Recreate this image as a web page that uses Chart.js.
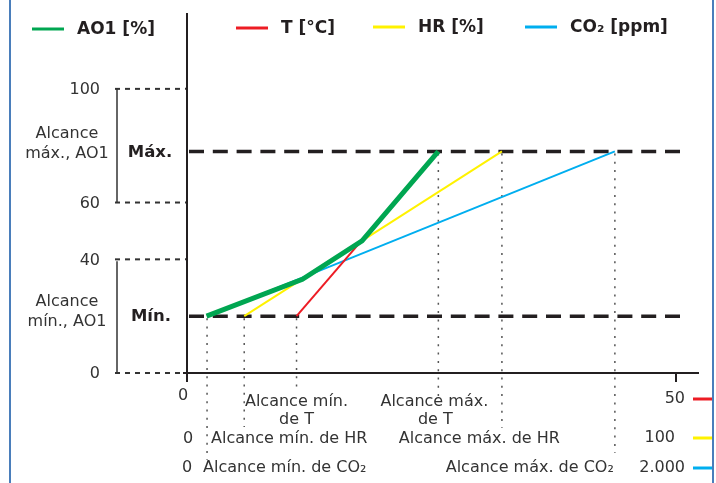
<!DOCTYPE html>
<html>
<head>
<meta charset="utf-8">
<script src="https://cdn.jsdelivr.net/npm/chart.js@4.4.0/dist/chart.umd.min.js"></script>
<style>
  body { margin: 0; background: #fff; }
  #grafico { display: block; }
</style>
</head>
<body>
<canvas id="grafico" width="716" height="483"></canvas>
<script>
const ticksAO1 = [0, 40, 60, 100];
const nomes = ['AO1 [%]', 'T [°C]', 'HR [%]', 'CO₂ [ppm]'];
const cores = ['#00a651', '#ed1c24', '#fff200', '#00aeef'];
const ao1Min = 20;
const ao1Max = 78;
const tAlcance = [11.2, 25.7];
const hrAlcance = [11.7, 64.4];
const co2Alcance = [82, 1750];
const escalaMax = [50, 100, 2000]; // T, HR, CO2
const escalaTexto = ['50', '100', '2.000'];
// AO1 resultante (eixo de T)
const ao1X = [2.0, 11.8, 17.9, 25.7];
const ao1Y = [20, 33, 46.5, 78];

const FONTE = '"DejaVu Sans", Verdana, sans-serif';
const TXT = '#333333';
const PRETO = '#231f20';

function pontos(xs, ys) {
    let lista = [];
    for (let i = 0; i < xs.length; i++) {
        lista.push({ x: xs[i], y: ys[i] });
    }
    return lista;
}

function linha(ctx, x1, y1, x2, y2, cor, largura, tracejado) {
    ctx.save();
    ctx.beginPath();
    ctx.strokeStyle = cor;
    ctx.lineWidth = largura;
    ctx.setLineDash(tracejado || []);
    ctx.moveTo(x1, y1);
    ctx.lineTo(x2, y2);
    ctx.stroke();
    ctx.restore();
}

function texto(ctx, s, x, y, alinhar, negrito, tam) {
    ctx.save();
    ctx.font = (negrito ? 'bold ' : '') + (tam || 16) + 'px ' + FONTE;
    ctx.fillStyle = negrito ? PRETO : TXT;
    ctx.textAlign = alinhar;
    ctx.textBaseline = 'middle';
    ctx.fillText(s, x, y);
    ctx.restore();
}

const desenhoFundo = {
    id: 'desenhoFundo',
    beforeDatasetsDraw(chart) {
        const ctx = chart.ctx;
        const y = chart.scales.y;
        const xT = chart.scales.xT, xHR = chart.scales.xHR, xCO2 = chart.scales.xCO2;
        const area = chart.chartArea;

        // linhas pontilhadas dos ticks do AO1
        ticksAO1.forEach(function (v) {
            const py = y.getPixelForValue(v);
            linha(ctx, 115, py, area.left, py, TXT, 2, [5, 5]);
        });
        // colchetes
        linha(ctx, 117, y.getPixelForValue(100), 117, y.getPixelForValue(60), TXT, 1.5);
        linha(ctx, 117, y.getPixelForValue(40) + 2, 117, y.getPixelForValue(0), TXT, 1.5);

        // eixos
        linha(ctx, area.left, 13, area.left, area.bottom + 9, PRETO, 2);
        linha(ctx, 183, area.bottom, 699, area.bottom, PRETO, 2);
        const x50 = xT.getPixelForValue(escalaMax[0]);
        linha(ctx, x50, area.bottom, x50, area.bottom + 9, PRETO, 2);

        // Máx. / Mín.
        const yMax = y.getPixelForValue(ao1Max);
        const yMin = y.getPixelForValue(ao1Min);
        linha(ctx, 189, yMax, 680, yMax, PRETO, 3.5, [15, 8.8]);
        linha(ctx, 189, yMin, 680, yMin, PRETO, 3.5, [15, 8.8]);

        // verticais pontilhadas ate os textos
        const verticais = [
            [xCO2.getPixelForValue(co2Alcance[0]), yMin, 460],
            [xHR.getPixelForValue(hrAlcance[0]), yMin, 427],
            [xT.getPixelForValue(tAlcance[0]), yMin, 388],
            [xT.getPixelForValue(tAlcance[1]), yMax, 396],
            [xHR.getPixelForValue(hrAlcance[1]), yMax, 428],
            [xCO2.getPixelForValue(co2Alcance[1]), yMax, 453]
        ];
        verticais.forEach(function (v) {
            linha(ctx, v[0], v[1] + 2, v[0], v[2], '#555555', 1.5, [2, 6.3]);
        });
    },
    afterDraw(chart) {
        const ctx = chart.ctx;
        const y = chart.scales.y;
        const xT = chart.scales.xT, xHR = chart.scales.xHR, xCO2 = chart.scales.xCO2;

        // legenda
        const legX = [32, 236, 373, 525];
        const legY = [29, 28, 27, 27];
        for (let i = 0; i < nomes.length; i++) {
            linha(ctx, legX[i], legY[i], legX[i] + 32, legY[i], cores[i], 3);
            texto(ctx, nomes[i], legX[i] + 45, legY[i] + 1, 'left', true, 17);
        }

        // eixo AO1
        ticksAO1.forEach(function (v) {
            texto(ctx, String(v), 100, y.getPixelForValue(v) + 1, 'right', false);
        });
        texto(ctx, 'Alcance', 67, 134, 'center', false);
        texto(ctx, 'máx., AO1', 67, 154, 'center', false);
        texto(ctx, 'Alcance', 67, 302, 'center', false);
        texto(ctx, 'mín., AO1', 67, 322, 'center', false);
        texto(ctx, 'Máx.', 150, y.getPixelForValue(ao1Max) + 1, 'center', true, 16.5);
        texto(ctx, 'Mín.', 151, y.getPixelForValue(ao1Min) + 1, 'center', true, 16.5);

        // linha T
        texto(ctx, '0', 183, 396, 'center', false);
        texto(ctx, 'Alcance mín.', xT.getPixelForValue(tAlcance[0]), 402, 'center', false);
        texto(ctx, 'de T', xT.getPixelForValue(tAlcance[0]), 420, 'center', false);
        texto(ctx, 'Alcance máx.', xT.getPixelForValue(tAlcance[1]) - 4, 402, 'center', false);
        texto(ctx, 'de T', xT.getPixelForValue(tAlcance[1]) - 3, 420, 'center', false);
        // linha HR
        texto(ctx, '0', 188, 439, 'center', false);
        texto(ctx, 'Alcance mín. de HR', 211, 439, 'left', false);
        texto(ctx, 'Alcance máx. de HR', xHR.getPixelForValue(hrAlcance[1]) + 58, 439, 'right', false);
        // linha CO2
        texto(ctx, '0', 187, 468, 'center', false);
        texto(ctx, 'Alcance mín. de CO₂', 203, 468, 'left', false);
        texto(ctx, 'Alcance máx. de CO₂', xCO2.getPixelForValue(co2Alcance[1]) - 1, 468, 'right', false);

        // fundos de escala
        const linhasY = [399, 438, 468];
        const direita = [685, 675, 685];
        for (let i = 0; i < 3; i++) {
            texto(ctx, escalaTexto[i], direita[i], linhasY[i], 'right', false);
            linha(ctx, 693, linhasY[i], 712, linhasY[i], cores[i + 1], 3);
        }

        // moldura lateral
        linha(ctx, 10, 0, 10, 483, '#4a7ebb', 2);
        linha(ctx, 713, 0, 713, 483, '#4a7ebb', 2);
    }
};

const dados = {
    datasets: [
        {
            label: nomes[0],
            data: pontos(ao1X, ao1Y),
            xAxisID: 'xT',
            borderColor: cores[0],
            borderWidth: 5,
            borderCapStyle: 'butt',
            borderJoinStyle: 'miter'
        },
        {
            label: nomes[1],
            data: pontos(tAlcance, [ao1Min, ao1Max]),
            xAxisID: 'xT',
            borderColor: cores[1],
            borderWidth: 2
        },
        {
            label: nomes[2],
            data: pontos(hrAlcance, [ao1Min, ao1Max]),
            xAxisID: 'xHR',
            borderColor: cores[2],
            borderWidth: 2
        },
        {
            label: nomes[3],
            data: pontos(co2Alcance, [ao1Min, ao1Max]),
            xAxisID: 'xCO2',
            borderColor: cores[3],
            borderWidth: 2
        }
    ]
};

const config = {
    type: 'line',
    data: dados,
    options: {
        responsive: false,
        animation: false,
        devicePixelRatio: 1,
        layout: { padding: { left: 187, right: 40, top: 15, bottom: 110 } },
        elements: { point: { radius: 0 }, line: { tension: 0 } },
        plugins: { legend: { display: false }, tooltip: { enabled: false } },
        scales: {
            xT: { type: 'linear', min: 0, max: escalaMax[0], display: false },
            xHR: { type: 'linear', min: 0, max: escalaMax[1], display: false },
            xCO2: { type: 'linear', min: 0, max: escalaMax[2], display: false },
            y: { type: 'linear', min: 0, max: 126, display: false }
        }
    },
    plugins: [desenhoFundo]
};

const grafico = new Chart(document.getElementById('grafico'), config);
</script>
</body>
</html>
